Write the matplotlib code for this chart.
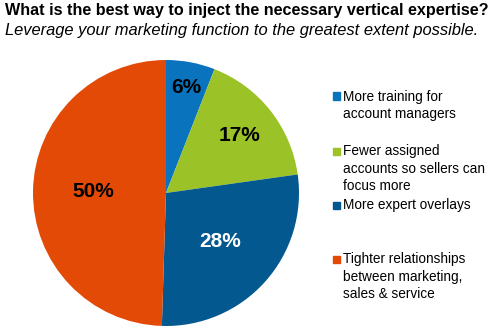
import matplotlib
matplotlib.use("Agg")
import matplotlib.pyplot as plt
import numpy as np

categories = ["More training for\naccount managers",
              "Fewer assigned\naccounts so sellers can\nfocus more",
              "More expert overlays",
              "Tighter relationships\nbetween marketing,\nsales & service"]
values = [6, 17, 28, 50]
labels = ["6%", "17%", "28%", "50%"]
colors = ["#0a73be", "#9bc226", "#03588f", "#e24a06"]
label_colors = ["black", "black", "white", "black"]

plt.rcParams['font.family'] = ['Liberation Sans', 'DejaVu Sans']
W, H = 500, 330
fig = plt.figure(figsize=(W/100, H/100), dpi=100)

cx, cy, r = 166, 193, 133
ax = fig.add_axes([(cx - r)/W, (H - cy - r)/H, 2*r/W, 2*r/H])
wedges, _ = ax.pie(values, colors=colors, startangle=90, counterclock=False,
                   radius=1, wedgeprops=dict(linewidth=0))
ax.set_xlim(-1, 1); ax.set_ylim(-1, 1)
ax.set_aspect('auto')
ax.axis('off')

total = sum(values)
start = 90.0
dists = [0.81, 0.7, 0.55, 0.55]
for v, lab, lc, d in zip(values, labels, label_colors, dists):
    ang = start - 360 * v / total / 2
    start -= 360 * v / total
    ax.text(d*np.cos(np.radians(ang)), d*np.sin(np.radians(ang)), lab,
            ha='center', va='center', fontsize=15, fontweight='bold', color=lc)

fig.text(5/W, 1 - 10/H, "What is the best way to inject the necessary vertical expertise?",
         fontsize=11.65, fontweight='bold', va='center', ha='left')
fig.text(5/W, 1 - 30/H, "Leverage your marketing function to the greatest extent possible.",
         fontsize=11.9, style='italic', va='center', ha='left')

leg_y = [96, 151, 205, 259]
for cat, col, y in zip(categories, colors, leg_y):
    fig.patches.append(plt.Rectangle((333/W, 1 - (y + 3.5)/H), 7/W, 7/H,
                                     transform=fig.transFigure, color=col))
    fig.text(343/W, 1 - (y - 6.5)/H, cat, fontsize=9.8, va='top', ha='left',
             linespacing=1.3)

fig.savefig("out.png", dpi=100)
